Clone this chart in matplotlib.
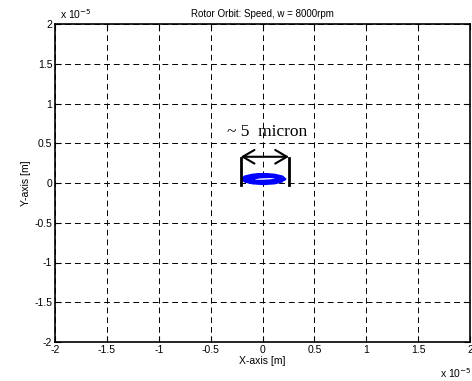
import matplotlib
matplotlib.use('Agg')
import matplotlib.pyplot as plt
import numpy as np

plt.rcParams['font.family'] = ['Liberation Sans', 'DejaVu Sans']

# orbit points (units of 1e-5 m)
orbit_x = [0.22, 0.192, 0.115, 0.01, -0.095, -0.172, -0.20, -0.172, -0.095, 0.01, 0.115, 0.192,
           0.17, 0.15, 0.08, -0.01, -0.09, -0.15, -0.18, -0.14, -0.08, 0.0, 0.09, 0.16,
           0.19, 0.16, 0.10, 0.02, -0.07, -0.16, -0.19, -0.16, -0.09, 0.01, 0.10, 0.17, 0.20,
           0.12, 0.05, -0.03, -0.11, -0.05, 0.04, 0.13, 0.21,
           0.15, 0.07, -0.02, -0.10, -0.14, -0.09, 0.0, 0.08, 0.14, 0.18,
           0.11, 0.03, -0.06, -0.12, -0.17, -0.13, -0.04, 0.06, 0.15, 0.21]
orbit_y = [0.05, 0.083, 0.106, 0.115, 0.106, 0.083, 0.05, 0.018, -0.006, -0.015, -0.006, 0.018,
           0.06, 0.085, 0.10, 0.108, 0.10, 0.08, 0.05, 0.02, 0.008, 0.0, 0.01, 0.03,
           0.05, 0.078, 0.092, 0.10, 0.095, 0.075, 0.045, 0.02, 0.01, 0.005, 0.012, 0.03, 0.05,
           0.075, 0.085, 0.08, 0.05, 0.02, 0.015, 0.025, 0.045,
           0.07, 0.075, 0.07, 0.06, 0.045, 0.03, 0.028, 0.035, 0.05, 0.06,
           0.09, 0.095, 0.09, 0.07, 0.04, 0.01, 0.0, 0.005, 0.02, 0.04]

ticks = [-2, -1.5, -1, -0.5, 0, 0.5, 1, 1.5, 2]
tick_labels = ['-2', '-1.5', '-1', '-0.5', '0', '0.5', '1', '1.5', '2']

# annotation marks (units of 1e-5 m)
bar_x = [-0.21, 0.255]
bar_y = [-0.03, 0.32]
arrow_y = 0.33

fig = plt.figure(figsize=(4.72, 3.81), dpi=100)
ax = fig.add_axes([55/472, 1 - 342/381, 415/472, 318/381])

ax.plot(orbit_x, orbit_y, color='blue', linewidth=1.4)

# width marker
for bx in bar_x:
    ax.plot([bx, bx], bar_y, color='black', linewidth=2)
ax.annotate('', xy=(bar_x[0], arrow_y), xytext=(bar_x[1], arrow_y),
            arrowprops=dict(arrowstyle='<->,head_length=0.6,head_width=0.35', color='black',
                            lw=1.5, mutation_scale=14, shrinkA=0, shrinkB=0))
ax.text(0.04, 0.64, '~ 5  micron', family=['Liberation Serif', 'DejaVu Serif'],
        fontsize=12.5, ha='center', va='center')

ax.set_xlim(-2, 2)
ax.set_ylim(-2, 2)
ax.set_xticks(ticks)
ax.set_yticks(ticks)
ax.set_xticklabels(tick_labels, fontsize=7.5)
ax.set_yticklabels(tick_labels, fontsize=7.5)
ax.tick_params(direction='in', length=4, width=0.8, top=True, right=True, pad=2)
ax.grid(True, color='black', linestyle=(0, (6, 4)), linewidth=0.7)
for s in ax.spines.values():
    s.set_linewidth(1.2)

ax.set_title('Rotor Orbit: Speed, w = 8000rpm', fontsize=7, pad=5)
ax.set_xlabel('X-axis [m]', fontsize=7.5, labelpad=1)
ax.set_ylabel('Y-axis [m]', fontsize=7.5, labelpad=2)

fig.text(60/472, 1 - 14/381, 'x 10$^{-5}$', fontsize=7.5, va='center')
fig.text(440/472, 1 - 373/381, 'x 10$^{-5}$', fontsize=7.5, va='center')

fig.savefig('out.png', dpi=100)
